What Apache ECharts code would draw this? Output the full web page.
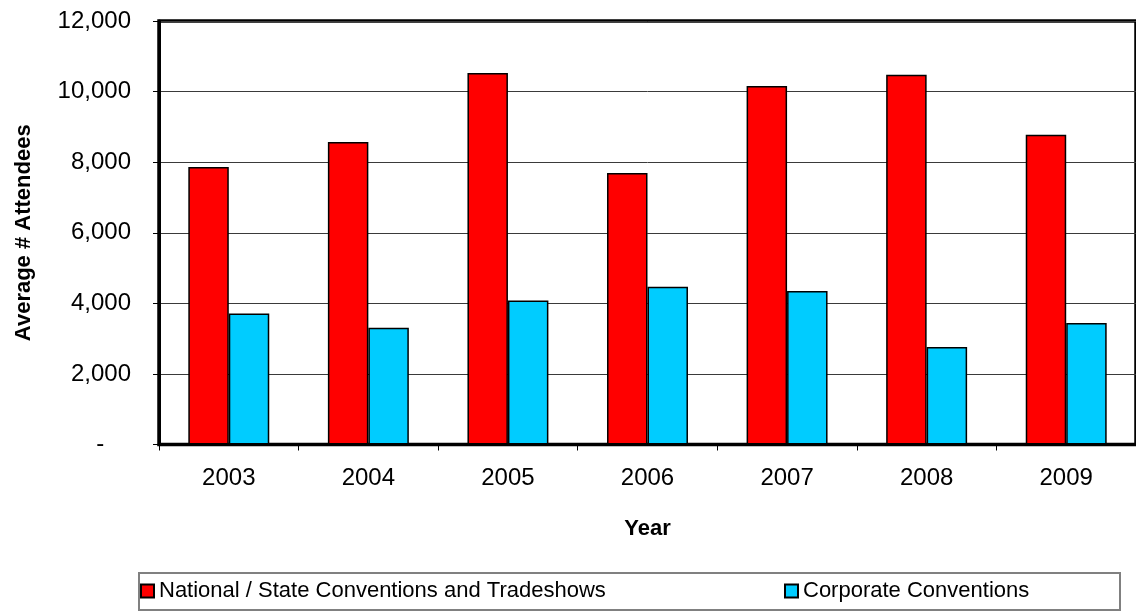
<!DOCTYPE html>
<html>
<head>
<meta charset="utf-8">
<script src="https://cdn.jsdelivr.net/npm/echarts@6/dist/echarts.min.js"></script>
<style>
html,body{margin:0;padding:0;background:#fff;overflow:hidden;}
#chart{width:1136px;height:613px;}
</style>
</head>
<body>
<div id="chart"></div>
<script>
const years = ['2003','2004','2005','2006','2007','2008','2009'];
const seriesNames = ['National / State Conventions and Tradeshows','Corporate Conventions'];
const nationalValues = [7860, 8570, 10530, 7690, 10160, 10480, 8780];
const corporateValues = [3710, 3310, 4080, 4470, 4350, 2760, 3440];
const yTicks = [0, 2000, 4000, 6000, 8000, 10000, 12000];

const FONT = '"Liberation Sans", Arial, sans-serif';
const chart = echarts.init(document.getElementById('chart'), null, {renderer:'canvas'});
chart.setOption({
  animation:false,
  backgroundColor:'#fff',
  textStyle:{fontFamily:FONT},
  grid:{left:159, top:21, right:-6, bottom:168.5, show:true, borderColor:'#000', borderWidth:3.5, backgroundColor:'transparent'},
  graphic:[{
    type:'rect', left:138, top:572, z:-1,
    shape:{width:981, height:37},
    style:{fill:'#fff', stroke:'#808080', lineWidth:2}
  }],
  legend:[
    {data:[seriesNames[0]], left:140, top:577, itemWidth:13, itemHeight:13, itemGap:5,
     textStyle:{fontFamily:FONT, fontSize:22, color:'#000'}, icon:'rect', padding:[3,0,3,0]},
    {data:[seriesNames[1]], left:784, top:577, itemWidth:13, itemHeight:13, itemGap:5,
     textStyle:{fontFamily:FONT, fontSize:22, color:'#000'}, icon:'rect', padding:[3,0,3,0]}
  ],
  xAxis:{
    type:'category', data:years, boundaryGap:true,
    name:'Year', nameLocation:'middle', nameGap:73,
    nameTextStyle:{fontFamily:FONT, fontSize:22, fontWeight:'bold', color:'#000'},
    axisLine:{show:true, lineStyle:{color:'#000', width:3}},
    axisTick:{show:true, alignWithLabel:false, length:6, lineStyle:{color:'#000', width:1}},
    axisLabel:{fontFamily:FONT, fontSize:24, color:'#000', margin:22}
  },
  yAxis:{
    type:'value', min:yTicks[0], max:yTicks[yTicks.length-1], interval:2000,
    name:'Average # Attendees', nameLocation:'middle', nameGap:124, nameRotate:90,
    nameTextStyle:{fontFamily:FONT, fontSize:22, fontWeight:'bold', color:'#000'},
    axisLine:{show:true, lineStyle:{color:'#000', width:3}},
    axisTick:{show:true, inside:false, length:6, lineStyle:{color:'#000', width:1}},
    splitLine:{show:true, lineStyle:{color:'#3a3a3a', width:1}},
    axisLabel:{fontFamily:FONT, fontSize:24, color:'#000', margin:28,
      formatter:function(v){ return v===0 ? '-    ' : v.toLocaleString('en-US'); }}
  },
  series:[
    {name:seriesNames[0], type:'bar', data:nationalValues, barGap:'0%', barCategoryGap:'42%',
     itemStyle:{color:'#FF0000', borderColor:'#000', borderWidth:1.5}},
    {name:seriesNames[1], type:'bar', data:corporateValues, barGap:'0%', barCategoryGap:'42%',
     itemStyle:{color:'#00CCFF', borderColor:'#000', borderWidth:1.5}}
  ]
});
</script>
</body>
</html>
